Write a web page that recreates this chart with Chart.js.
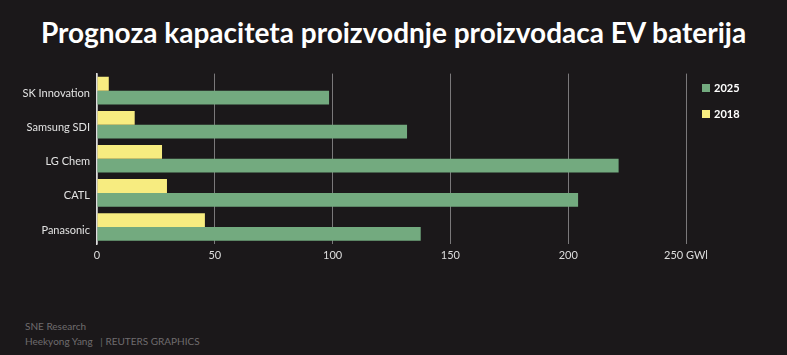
<!DOCTYPE html>
<html>
<head>
<meta charset="utf-8">
<script src="https://cdn.jsdelivr.net/npm/chart.js@4"></script>
<style>
  body { margin: 0; background: #1b181a; width: 787px; height: 355px; overflow: hidden; position: relative; font-family: Lato, sans-serif; }
  #title { position: absolute; left: 0; top: 15px; width: 787px; text-align: center; color: #fff; font-weight: bold; font-size: 28px; }
  #wrap { position: absolute; left: 0; top: 60px; width: 787px; height: 210px; }
  .foot { position: absolute; left: 25px; color: #6f6c6e; font-size: 10px; }
</style>
</head>
<body>
<div id="title">Prognoza kapaciteta proizvodnje proizvodaca EV baterija</div>
<div id="wrap"><canvas id="barChart"></canvas></div>
<div class="foot" style="top:320px">SNE Research</div>
<div class="foot" style="top:335px">Heekyong Yang &nbsp;&nbsp;| REUTERS GRAPHICS</div>
<script>
const companies = ["SK Innovation", "Samsung SDI", "LG Chem", "CATL", "Panasonic"];
const values2018 = [5, 16, 27.6, 29.7, 45.8];
const values2025 = [98.5, 131.6, 221.4, 204.2, 137.4];
const xTicks = [0, 50, 100, 150, 200, 250];

// legend drawn at the right, 2025 first
const sideLegend = {
  id: "sideLegend",
  afterDraw(chart) {
    const ctx = chart.ctx;
    const items = chart.data.datasets.slice().reverse();
    ctx.save();
    ctx.font = "bold 11px Lato";
    ctx.textBaseline = "middle";
    items.forEach((ds, i) => {
      const y = 28 + i * 26;
      ctx.fillStyle = ds.backgroundColor;
      ctx.fillRect(702, y - 4, 8, 8);
      ctx.fillStyle = "#ffffff";
      ctx.fillText(ds.label, 714, y);
    });
    ctx.restore();
  },
};

new Chart(document.getElementById("barChart"), {
  type: "bar",
  data: {
    labels: companies,
    datasets: [
      { label: "2018", data: values2018, backgroundColor: "#f7ec80" },
      { label: "2025", data: values2025, backgroundColor: "#73aa7f" },
    ],
  },
  options: {
    indexAxis: "y",
    responsive: true,
    maintainAspectRatio: false,
    animation: false,
    layout: { padding: { top: 11, right: 101, left: 0, bottom: 0 } },
    datasets: { bar: { categoryPercentage: 0.81, barPercentage: 1 } },
    scales: {
      x: {
        min: 0,
        max: 250,
        afterBuildTicks: (scale) => {
          scale.ticks = xTicks.map((v) => ({ value: v }));
        },
        afterFit: (scale) => { scale.height = 26; },
        grid: { color: "#7a787a", drawTicks: false, lineWidth: 1 },
        border: { display: false },
        ticks: {
          color: "#dddddd",
          font: { family: "Lato", size: 11 },
          padding: 5,
          callback: (v) => (v === 250 ? "250 GWl" : v),
        },
      },
      y: {
        afterFit: (scale) => { scale.width = 97; },
        grid: { display: false, drawTicks: false, tickLength: 0 },
        border: { display: true, color: "#dddddd", width: 1.5 },
        ticks: { color: "#e2e2e2", font: { family: "Lato", size: 11 }, padding: 7, labelOffset: 3 },
      },
    },
    plugins: {
      legend: { display: false },
      tooltip: { enabled: false },
    },
  },
  plugins: [sideLegend],
});
</script>
</body>
</html>
